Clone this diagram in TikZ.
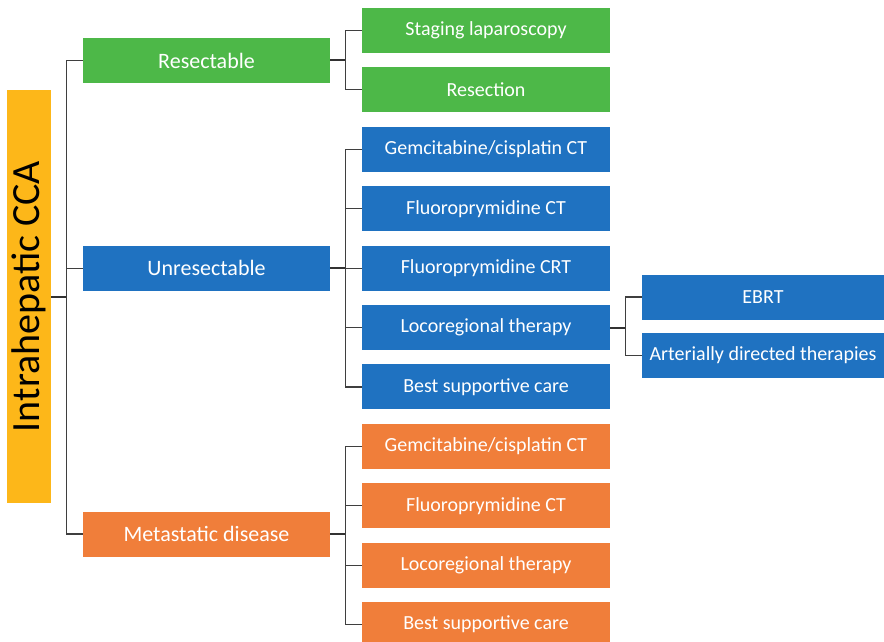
\documentclass[tikz,border=0pt]{standalone}
\usepackage{fontspec}
\setmainfont{Carlito}
\definecolor{resgreen}{HTML}{4DB848}
\definecolor{unresblue}{HTML}{1F72C1}
\definecolor{metaorange}{HTML}{F07E3A}
\definecolor{rootgold}{HTML}{FDB719}
\definecolor{linegray}{HTML}{3F3F3F}
\tikzset{
  basebox/.style={rectangle, inner sep=0pt, minimum height=45pt, text=white},
  catbox/.style={basebox, minimum width=247pt, font=\fontsize{22}{26}\selectfont},
  optbox/.style={basebox, minimum width=248pt, font=\fontsize{20}{24}\selectfont},
  subbox/.style={basebox, minimum width=242pt, font=\fontsize{20}{24}\selectfont},
  bracket/.style={draw=linegray, line width=1.2pt},
  stub/.style={draw=linegray!80!black, line width=2pt}
}
\begin{document}
\begin{tikzpicture}[x=1pt, y=-1pt]
  \useasboundingbox (0,0) rectangle (884,642);
  \clip (0,0) rectangle (884,642);
  \fill[white] (0,0) rectangle (884,642);

  % root
  \node[rectangle, fill=rootgold, minimum width=44pt, minimum height=413pt, inner sep=0pt]
    (root) at (29,296.5) {};
  \node[rotate=90, font=\fontsize{40}{44}\selectfont] (roottext) at (root.center) {Intrahepatic CCA};

  % second column
  \foreach \name/\txt/\k/\col in {%
      r1/{Staging laparoscopy}/0/resgreen, r2/Resection/1/resgreen,
      u1/{Gemcitabine/cisplatin CT}/2/unresblue, u2/{Fluoroprymidine CT}/3/unresblue,
      u3/{Fluoroprymidine CRT}/4/unresblue, u4/{Locoregional therapy}/5/unresblue,
      u5/{Best supportive care}/6/unresblue,
      m1/{Gemcitabine/cisplatin CT}/7/metaorange, m2/{Fluoroprymidine CT}/8/metaorange,
      m3/{Locoregional therapy}/9/metaorange, m4/{Best supportive care}/10/metaorange}
  {
    \pgfmathsetmacro\yy{30.5+59.4*\k}
    \node[optbox, fill=\col] (\name) at (486,\yy) {\txt};
  }

  % first column
  \node[catbox, fill=resgreen] (resect) at (206.5,60.5) {Resectable};
  \node[catbox, fill=unresblue] (unresect) at (206.5,268.1) {Unresectable};
  \node[catbox, fill=metaorange] (meta) at (206.5,534) {Metastatic disease};

  % third column
  \node[subbox, fill=unresblue] (e1) at (763,297) {EBRT};
  \node[subbox, fill=unresblue] (e2) at (763,355.5) {Arterially directed therapies};

  % connectors
  \draw[stub] (root.east) -- ++(16,0);
  \draw[bracket] (resect.west) -- ++(-16,0) |- (meta.west);
  \draw[bracket] (unresect.west) -- ++(-16,0);

  \draw[stub] (resect.east) -- ++(16,0);
  \draw[bracket] (r1.west) -- ++(-16,0) |- (r2.west);

  \draw[stub] (unresect.east) -- ++(16,0);
  \draw[bracket] (u1.west) -- ++(-16,0) |- (u5.west);
  \foreach \n in {u2,u3,u4}
    \draw[bracket] (\n.west) -- ++(-16,0);

  \draw[stub] (meta.east) -- ++(16,0);
  \draw[bracket] (m1.west) -- ++(-16,0) |- (m4.west);
  \foreach \n in {m2,m3}
    \draw[bracket] (\n.west) -- ++(-16,0);

  \draw[stub] (u4.east) -- ++(16,0);
  \draw[bracket] (e1.west) -- ++(-16,0) |- (e2.west);
\end{tikzpicture}
\end{document}
